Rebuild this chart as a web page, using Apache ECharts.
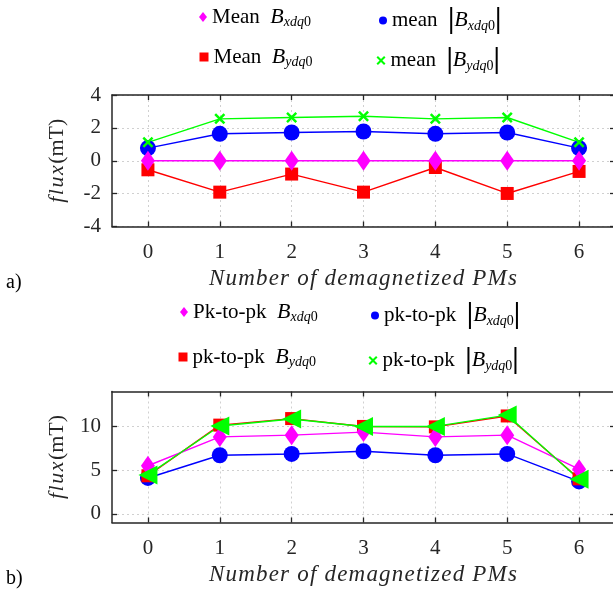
<!DOCTYPE html>
<html>
<head>
<meta charset="utf-8">
<script src="https://cdn.jsdelivr.net/npm/echarts@6/dist/echarts.min.js"></script>
<style>
  html, body { margin: 0; padding: 0; background: #fff; }
  #chart { width: 613px; height: 591px; }
</style>
</head>
<body>
<div id="chart"></div>
<script>
// number of demagnetized PMs
const pms = [0, 1, 2, 3, 4, 5, 6];

// a) mean values (mT)
const meanBx = [0, 0, 0, 0, 0, 0, 0];
const meanAbsBx = [0.77, 1.64, 1.72, 1.78, 1.64, 1.72, 0.77];
const meanBy = [-0.55, -1.91, -0.81, -1.91, -0.41, -1.99, -0.65];
const meanAbsBy = [1.12, 2.55, 2.63, 2.71, 2.55, 2.63, 1.12];

// b) peak-to-peak values (mT)
const pkBx = [5.5, 8.8, 9.0, 9.35, 8.8, 9.0, 5.1];
const pkAbsBx = [4.1, 6.7, 6.85, 7.15, 6.7, 6.85, 3.7];
const pkBy = [4.35, 10.15, 10.9, 10.0, 9.95, 11.2, 4.0];
const pkAbsBy = [4.45, 10.05, 10.85, 10.0, 10.0, 11.3, 3.95];

const fluxTicksTop = [-4, -2, 0, 2, 4];
const fluxTicksBottom = [0, 5, 10];
const xTitle = 'Number of demagnetized PMs';

const serif = 'Liberation Serif';
const ink = '#262626';
const xPath = 'path://M0,1.6L1.6,0L5,3.4L8.4,0L10,1.6L6.6,5L10,8.4L8.4,10L5,6.6L1.6,10L0,8.4L3.4,5Z';

const legendLabels = {
  meanBx: '{t|Mean}  {b|B}{s|xdq}{z|0}',
  meanAbsBx: '{t|mean}  {bar||}{b|B}{s|xdq}{z|0}{bar||}',
  meanBy: '{t|Mean}  {b|B}{s|ydq}{z|0}',
  meanAbsBy: '{t|mean}  {bar||}{b|B}{s|ydq}{z|0}{bar||}',
  pkBx: '{t|Pk-to-pk}  {b|B}{s|xdq}{z|0}',
  pkAbsBx: '{t|pk-to-pk}  {bar||}{b|B}{s|xdq}{z|0}{bar||}',
  pkBy: '{t|pk-to-pk}  {b|B}{s|ydq}{z|0}',
  pkAbsBy: '{t|pk-to-pk}  {bar||}{b|B}{s|ydq}{z|0}{bar||}'
};

const legendRich = {
  t: { fontFamily: serif, fontSize: 21, color: '#000' },
  b: { fontFamily: serif, fontStyle: 'italic', fontSize: 22, color: '#000' },
  s: { fontFamily: serif, fontStyle: 'italic', fontSize: 14, color: '#000', padding: [11, 0, 0, 0] },
  z: { fontFamily: serif, fontSize: 14, color: '#000', padding: [11, 0, 0, 0] },
  bar: { fontFamily: serif, fontWeight: 'bold', fontSize: 29, color: '#000' }
};

function spaced(str, key) {
  return str.split('').map(c => '{' + key + '|' + c + '}').join('');
}

function pairs(values) {
  return pms.map((x, i) => [x, values[i]]);
}

function legendAt(name, icon, cx, cy, w, h) {
  return {
    data: [{ name: name, icon: icon }],
    left: cx - w / 2,
    top: cy - 11,
    padding: 0,
    itemWidth: w,
    itemHeight: h,
    selectedMode: false,
    formatter: n => legendLabels[n],
    textStyle: { fontFamily: serif, fontSize: 21, color: '#000', rich: legendRich }
  };
}

function mainX(gridIndex) {
  return {
    type: 'value', gridIndex: gridIndex, position: 'bottom', min: -0.5, max: 6.5,
    name: spaced(xTitle, 'm'), nameLocation: 'middle', nameGap: 41,
    nameTextStyle: { rich: { m: { fontFamily: serif, fontStyle: 'italic', fontSize: 23, color: ink, padding: [0, 1.2, 0, 0] } } },
    axisLine: { onZero: false, lineStyle: { color: ink, width: 1.5 } },
    axisTick: { inside: true, length: 5, customValues: pms, lineStyle: { color: ink, width: 1.3 } },
    axisLabel: { customValues: pms, fontFamily: serif, fontSize: 21, color: ink, margin: 15 },
    splitLine: { show: true, lineStyle: { color: '#d0d0d0', type: [2, 3], width: 1 } }
  };
}

function topX(gridIndex) {
  return {
    type: 'value', gridIndex: gridIndex, position: 'top', min: -0.5, max: 6.5,
    axisLine: { onZero: false, lineStyle: { color: ink, width: 1.5 } },
    axisTick: { inside: true, length: 5, customValues: pms, lineStyle: { color: ink, width: 1.3 } },
    axisLabel: { show: false },
    splitLine: { show: false }
  };
}

function leftY(gridIndex, min, max, ticks) {
  return {
    type: 'value', gridIndex: gridIndex, position: 'left', min: min, max: max,
    name: spaced('flux', 'm') + '{n|(mT)}', nameLocation: 'middle', nameGap: 44,
    nameTextStyle: { rich: {
      m: { fontFamily: serif, fontStyle: 'italic', fontSize: 22, color: ink, padding: [0, 1.5, 0, 0] },
      n: { fontFamily: serif, fontSize: 22, color: ink }
    } },
    axisLine: { onZero: false, lineStyle: { color: ink, width: 1.5 } },
    axisTick: { inside: true, length: 5, customValues: ticks, lineStyle: { color: ink, width: 1.3 } },
    axisLabel: { customValues: ticks, fontFamily: serif, fontSize: 21, color: ink, margin: 11 },
    splitLine: { show: true, lineStyle: { color: '#d0d0d0', type: [2, 3], width: 1 } }
  };
}

function rightY(gridIndex, min, max, ticks) {
  return {
    type: 'value', gridIndex: gridIndex, position: 'right', min: min, max: max,
    axisLine: { onZero: false, lineStyle: { color: ink, width: 1.5 } },
    axisTick: { inside: true, length: 5, customValues: ticks, lineStyle: { color: ink, width: 1.3 } },
    axisLabel: { show: false },
    splitLine: { show: false }
  };
}

function line(name, values, axisIdx, color, symbol, size, extra) {
  return Object.assign({
    name: name, type: 'line', xAxisIndex: axisIdx, yAxisIndex: axisIdx,
    data: pairs(values), symbol: symbol, symbolSize: size, showSymbol: true,
    lineStyle: { color: color, width: 1.4 },
    itemStyle: { color: color },
    emphasis: { disabled: true },
    animation: false
  }, extra || {});
}

const chart = echarts.init(document.getElementById('chart'), null, { renderer: 'canvas' });

chart.setOption({
  backgroundColor: '#fff',
  animation: false,
  grid: [
    { left: 112, right: -2, top: 95, height: 131.5, outerBoundsMode: 'none' },
    { left: 112, right: -2, top: 391.5, height: 131, outerBoundsMode: 'none' }
  ],
  xAxis: [mainX(0), topX(0), mainX(1), topX(1)],
  yAxis: [
    leftY(0, -4, 4, fluxTicksTop), rightY(0, -4, 4, fluxTicksTop),
    leftY(1, -1, 14, fluxTicksBottom), rightY(1, -1, 14, fluxTicksBottom)
  ],
  legend: [
    legendAt('meanBx', 'diamond', 203, 17, 8, 10),
    legendAt('meanAbsBx', 'circle', 383, 17, 8, 8),
    legendAt('meanBy', 'rect', 204, 57, 9, 9),
    legendAt('meanAbsBy', xPath, 381, 57, 9, 9),
    legendAt('pkBx', 'diamond', 184, 312, 8, 10),
    legendAt('pkAbsBx', 'circle', 375, 312, 8, 8),
    legendAt('pkBy', 'rect', 183, 357, 9, 9),
    legendAt('pkAbsBy', xPath, 373, 357, 9, 9)
  ],
  graphic: [
    { type: 'text', left: 6, top: 273, style: { text: 'a)', font: '20px "Liberation Serif"', fill: '#000' } },
    { type: 'text', left: 6, top: 569, style: { text: 'b)', font: '20px "Liberation Serif"', fill: '#000' } }
  ],
  series: [
    line('meanAbsBx', meanAbsBx, 0, '#0000ff', 'circle', 16),
    line('meanBy', meanBy, 0, '#ff0000', 'rect', 13),
    line('meanBx', meanBx, 0, '#ff00ff', 'diamond', [14, 20]),
    line('meanAbsBy', meanAbsBy, 0, '#00ff00', xPath, 11),
    line('pkAbsBx', pkAbsBx, 2, '#0000ff', 'circle', 16),
    line('pkBy', pkBy, 2, '#ff0000', 'rect', 13),
    line('pkBx', pkBx, 2, '#ff00ff', 'diamond', [14, 20]),
    line('pkAbsBy', pkAbsBy, 2, '#00ff00', 'triangle', 19, { symbolRotate: 90 })
  ]
});
</script>
</body>
</html>
